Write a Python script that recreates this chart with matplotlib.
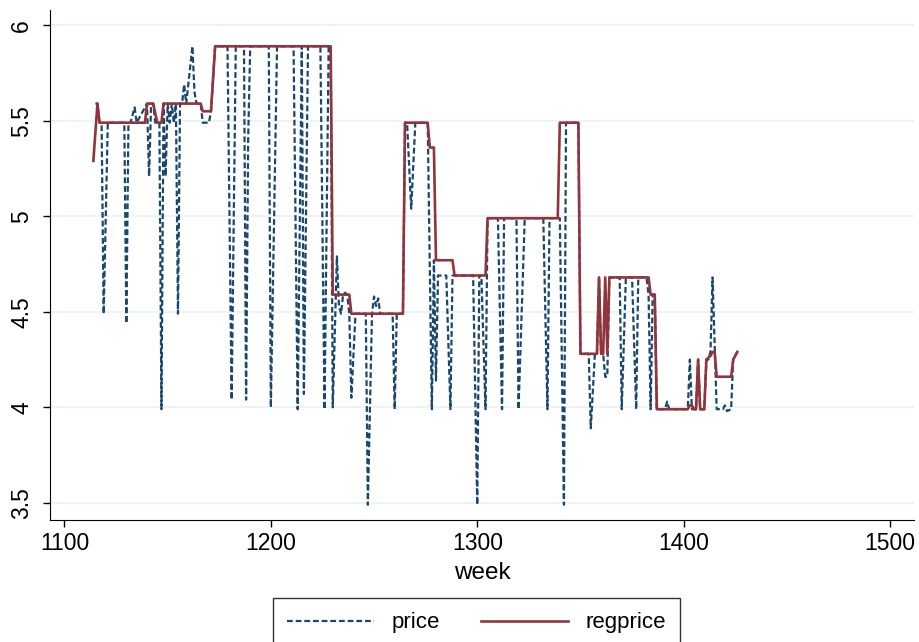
import matplotlib
matplotlib.use("Agg")
import matplotlib.pyplot as plt

# weekly series, only the weeks where the value changes are listed
price_week = [1115, 1116, 1117, 1118, 1119, 1121, 1129, 1130, 1131, 1132, 1134, 1135,
              1140, 1141, 1142, 1143, 1144, 1146, 1147, 1148, 1149, 1150, 1151, 1152,
              1153, 1154, 1155, 1156, 1157, 1158, 1159, 1160, 1161, 1162, 1163, 1164,
              1166, 1167, 1170, 1171, 1173,
              1179, 1181, 1183, 1187, 1188, 1189, 1190, 1199, 1200, 1203, 1211, 1213,
              1215, 1216, 1218, 1224, 1226, 1228, 1229,
              1230, 1232, 1233, 1234, 1235, 1236, 1237, 1238, 1239, 1241, 1246, 1247,
              1249, 1250, 1251, 1252, 1253, 1259, 1260, 1261, 1264,
              1265, 1266, 1268, 1270, 1276, 1278, 1279, 1280, 1281, 1285, 1287, 1288,
              1298, 1300, 1301, 1302, 1304, 1305,
              1310, 1312, 1313, 1319, 1320, 1323, 1332, 1334, 1335, 1340, 1342, 1343,
              1349, 1350, 1354, 1355, 1357, 1358, 1359, 1360, 1361, 1362, 1363, 1364,
              1369, 1370, 1372, 1375, 1377, 1378, 1382, 1383, 1384, 1385, 1386, 1387,
              1391, 1392, 1393, 1402, 1403, 1404, 1406, 1407, 1408, 1410, 1411, 1412,
              1413, 1414, 1416, 1419, 1420, 1421, 1423, 1424, 1426]
price = [5.59, 5.59, 5.49, 5.49, 4.49, 5.49, 5.49, 4.44, 5.49, 5.49, 5.57, 5.49,
         5.59, 5.21, 5.59, 5.59, 5.49, 5.49, 3.99, 5.59, 5.21, 5.59, 5.49, 5.59,
         5.49, 5.59, 4.49, 5.59, 5.59, 5.69, 5.59, 5.69, 5.79, 5.89, 5.65, 5.59,
         5.59, 5.49, 5.49, 5.55, 5.89,
         5.89, 4.04, 5.89, 5.89, 4.04, 5.40, 5.89, 5.89, 4.00, 5.89, 5.89, 3.99,
         5.89, 4.07, 5.89, 5.89, 3.99, 5.89, 5.89,
         4.00, 4.79, 4.53, 4.49, 4.59, 4.60, 4.59, 4.49, 4.05, 4.49, 4.49, 3.49,
         4.49, 4.58, 4.53, 4.57, 4.49, 4.49, 3.99, 4.49, 4.49,
         5.49, 5.49, 5.04, 5.49, 5.49, 3.99, 4.77, 4.14, 4.69, 4.69, 3.99, 4.69,
         4.69, 3.49, 4.69, 4.69, 3.99, 4.99,
         4.99, 3.99, 4.99, 4.99, 3.99, 4.99, 4.99, 3.99, 4.99, 4.99, 3.49, 5.49,
         5.49, 4.28, 4.28, 3.89, 4.28, 4.28, 4.68, 4.28, 4.28, 4.16, 4.16, 4.68,
         4.68, 3.99, 4.68, 4.68, 3.99, 4.68, 4.68, 4.59, 3.99, 4.59, 4.59, 3.99,
         3.99, 4.03, 3.99, 3.99, 4.25, 3.99, 3.99, 4.25, 3.99, 3.99, 4.25, 4.25,
         4.29, 4.68, 3.99, 3.99, 4.01, 3.98, 3.99, 4.25, 4.29]

regprice_week = [1114, 1116, 1117, 1139, 1140, 1143, 1145, 1147, 1148, 1166, 1167, 1171,
                 1173, 1229, 1230, 1238, 1239, 1264, 1265, 1276, 1277, 1279, 1280, 1288,
                 1289, 1304, 1305, 1339, 1340, 1349, 1350, 1358, 1359, 1360, 1361, 1362,
                 1363, 1364, 1383, 1384, 1386, 1387, 1402, 1403, 1404, 1405, 1406, 1407,
                 1408, 1410, 1411, 1413, 1414, 1415, 1416, 1423, 1424, 1426]
regprice = [5.29, 5.59, 5.49, 5.49, 5.59, 5.59, 5.49, 5.49, 5.59, 5.59, 5.55, 5.55,
            5.89, 5.89, 4.59, 4.59, 4.49, 4.49, 5.49, 5.49, 5.36, 5.36, 4.77, 4.77,
            4.69, 4.69, 4.99, 4.99, 5.49, 5.49, 4.28, 4.28, 4.68, 4.28, 4.28, 4.68,
            4.28, 4.68, 4.68, 4.59, 4.59, 3.99, 3.99, 4.01, 4.01, 3.99, 3.99, 4.25,
            3.99, 3.99, 4.25, 4.27, 4.29, 4.29, 4.16, 4.16, 4.25, 4.29]

xticks = [1100, 1200, 1300, 1400, 1500]
yticks = [3.5, 4, 4.5, 5, 5.5, 6]
ytick_labels = ["3.5", "4", "4.5", "5", "5.5", "6"]

plt.rcParams['font.family'] = ['Liberation Sans', 'DejaVu Sans']

fig = plt.figure(figsize=(9.19, 6.42), dpi=100)
ax = fig.add_axes([50 / 919, 122 / 642, 864 / 919, 510 / 642])

for y in yticks:
    ax.axhline(y, color='#eaf2f3', lw=1.2, zorder=0)

ax.plot(price_week, price, color='#1a476f', lw=1.6, linestyle=(0, (2.6, 1.3)),
        label='price')
ax.plot(regprice_week, regprice, color='#90353b', lw=1.9, label='regprice')

ax.set_xlim(1093, 1511.6)
ax.set_ylim(3.41, 6.08)
ax.set_xticks(xticks)
ax.set_yticks(yticks)
ax.set_yticklabels(ytick_labels, rotation=90, va='center')
ax.tick_params(labelsize=16.5, length=5, width=1, direction='out')
ax.tick_params(axis='x', pad=4)
ax.tick_params(axis='y', pad=7)
for s in ['top', 'right']:
    ax.spines[s].set_visible(False)
ax.set_xlabel('week', fontsize=17.5, labelpad=5)

fig.legend(loc='upper center', bbox_to_anchor=(0.5185, 0.0685), ncol=2,
           fontsize=16, frameon=True, fancybox=False, edgecolor='black',
           handlelength=3.9, handletextpad=0.8, columnspacing=1.85,
           borderpad=0.65, borderaxespad=0)

fig.savefig('out.png', dpi=100)
